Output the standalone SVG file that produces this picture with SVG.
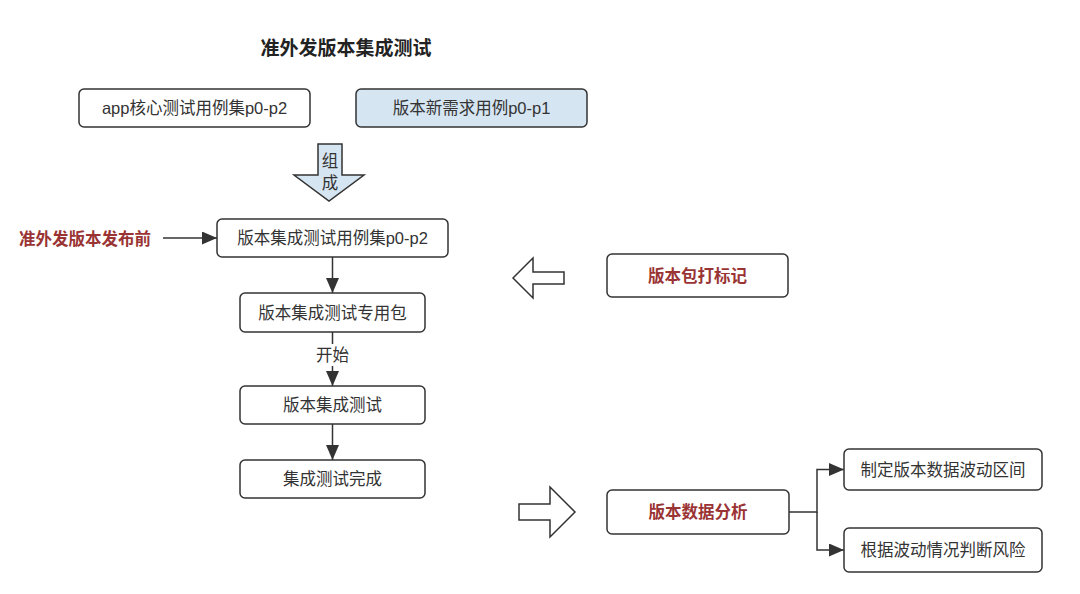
<svg xmlns="http://www.w3.org/2000/svg" width="1080" height="594" viewBox="0 0 1080 594">
<defs>
<style>
text{font-family:"Liberation Sans","Noto Sans CJK SC",sans-serif;font-size:16.5px;fill:#333;text-anchor:middle;dominant-baseline:central}
.box{fill:#fff;stroke:#333;stroke-width:1.5}
.blue{fill:#d6e5f2}
.red{fill:#9a3434;font-weight:bold}
.title{font-size:19px;font-weight:bold;fill:#222}
.conn{stroke:#333;stroke-width:1.5;fill:none}
.big{fill:#fff;stroke:#333;stroke-width:1.5}
</style>
<marker id="ah" viewBox="0 0 15 13" refX="15" refY="6.5" markerWidth="15" markerHeight="13" markerUnits="userSpaceOnUse" orient="auto">
<path d="M0,0 L15,6.5 L0,13 Z" fill="#333"/>
</marker>
</defs>
<rect width="1080" height="594" fill="#fff"/>
<text class="title" x="346" y="48">准外发版本集成测试</text>

<g id="n-app">
<rect class="box" x="79" y="89" width="231" height="38" rx="5"/>
<text x="194.5" y="108">app核心测试用例集p0-p2</text>
</g>
<g id="n-new">
<rect class="box blue" x="356" y="89" width="231" height="38" rx="5"/>
<text x="471.5" y="108">版本新需求用例p0-p1</text>
</g>
<g id="n-compose">
<path class="big" style="fill:#d6e5f2" d="M318,144 L342,144 L342,175 L364,175 L329,201 L294,175 L318,175 Z"/>
<text x="330" y="161">组</text>
<text x="330" y="183">成</text>
</g>
<g id="n-before">
<text class="red" x="85" y="239">准外发版本发布前</text>
</g>
<g id="n-set">
<rect class="box" x="217" y="219" width="231" height="38" rx="5"/>
<text x="332.5" y="238">版本集成测试用例集p0-p2</text>
</g>
<g id="n-pkg">
<rect class="box" x="240" y="293" width="185" height="39" rx="5"/>
<text x="332.5" y="312.5">版本集成测试专用包</text>
</g>
<g id="n-test">
<rect class="box" x="240" y="386" width="185" height="38" rx="5"/>
<text x="332.5" y="405">版本集成测试</text>
</g>
<g id="n-done">
<rect class="box" x="240" y="460" width="185" height="38" rx="5"/>
<text x="332.5" y="479">集成测试完成</text>
</g>
<g id="n-leftarrow">
<path class="big" d="M513,278 L533,258 L533,272 L564,272 L564,284 L533,284 L533,298 Z"/>
</g>
<g id="n-mark">
<rect class="box" x="607" y="254" width="181" height="43" rx="5"/>
<text class="red" x="697.5" y="276">版本包打标记</text>
</g>
<g id="n-rightarrow">
<path class="big" d="M519,504 L550,504 L550,487 L575,512 L550,537 L550,520 L519,520 Z"/>
</g>
<g id="n-analysis">
<rect class="box" x="607" y="490" width="182" height="44" rx="5"/>
<text class="red" x="698" y="512">版本数据分析</text>
</g>
<g id="n-range">
<rect class="box" x="844" y="449" width="198" height="41" rx="5"/>
<text x="943" y="469.5">制定版本数据波动区间</text>
</g>
<g id="n-risk">
<rect class="box" x="844" y="528" width="198" height="44" rx="5"/>
<text x="943" y="550">根据波动情况判断风险</text>
</g>

<g id="connectors">
<path class="conn" d="M163,238 L217,238" marker-end="url(#ah)"/>
<path class="conn" d="M332.5,257 L332.5,293" marker-end="url(#ah)"/>
<path class="conn" d="M332.5,332 L332.5,344 M332.5,366 L332.5,386" marker-end="url(#ah)"/>
<text x="332.5" y="355">开始</text>
<path class="conn" d="M332.5,424 L332.5,460" marker-end="url(#ah)"/>
<path class="conn" d="M789,512 L817,512 L817,469.5 L844,469.5" marker-end="url(#ah)"/>
<path class="conn" d="M817,512 L817,550 L844,550" marker-end="url(#ah)"/>
</g>
</svg>
